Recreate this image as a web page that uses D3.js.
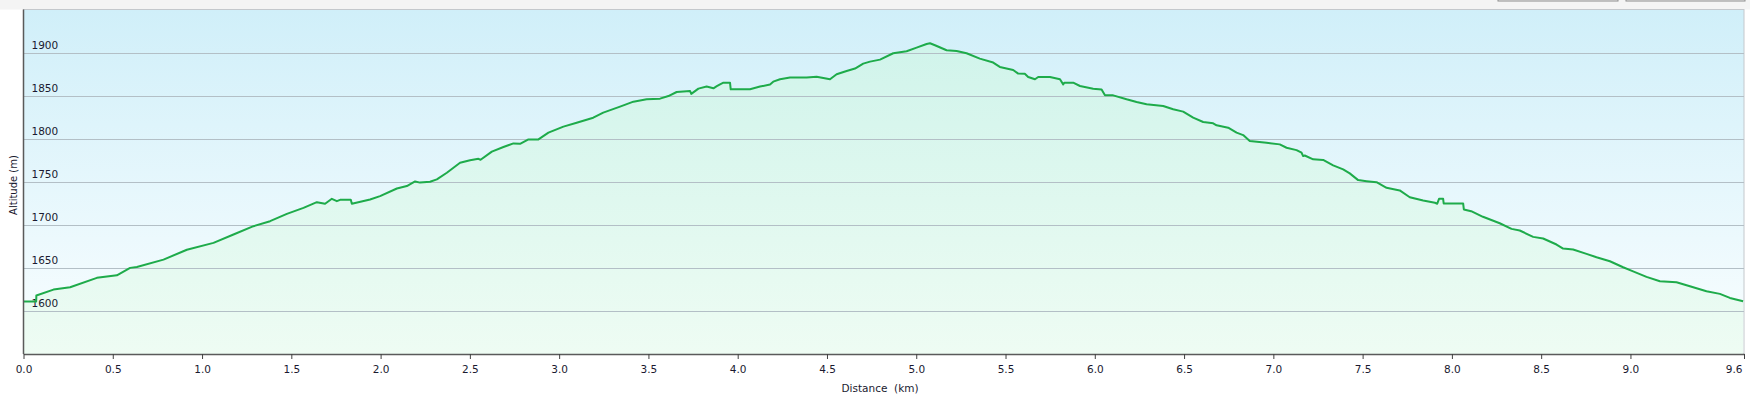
<!DOCTYPE html>
<html>
<head>
<meta charset="utf-8">
<script src="https://cdn.jsdelivr.net/npm/d3@7"></script>
<style>
  body { margin: 0; background: #ffffff; }
  svg { display: block; }
  text { font-family: 'DejaVu Sans', Verdana, sans-serif; fill: #1a1a30; }
</style>
</head>
<body>
<div id="chart"></div>
<script>
// profile
var distances = [0.000, 0.071, 0.072, 0.168, 0.261, 0.411, 0.523, 0.597, 0.635, 0.784, 0.915, 1.064, 1.176, 1.288, 1.381, 1.475, 1.568, 1.643, 1.689, 1.727,
  1.755, 1.773, 1.833, 1.839, 1.941, 1.997, 2.091, 2.147, 2.193, 2.221, 2.277, 2.315, 2.371, 2.445, 2.501, 2.548, 2.560, 2.623, 2.688, 2.744,
  2.781, 2.828, 2.884, 2.940, 3.024, 3.098, 3.191, 3.247, 3.341, 3.416, 3.490, 3.565, 3.612, 3.658, 3.733, 3.740, 3.780, 3.826, 3.864, 3.883,
  3.901, 3.920, 3.957, 3.961, 4.069, 4.125, 4.181, 4.199, 4.237, 4.293, 4.386, 4.442, 4.517, 4.554, 4.610, 4.657, 4.703, 4.741, 4.797, 4.871,
  4.946, 5.002, 5.058, 5.077, 5.105, 5.170, 5.226, 5.282, 5.356, 5.431, 5.468, 5.543, 5.571, 5.608, 5.627, 5.665, 5.683, 5.749, 5.805, 5.823,
  5.830, 5.879, 5.917, 5.991, 6.038, 6.057, 6.103, 6.178, 6.234, 6.290, 6.383, 6.439, 6.495, 6.551, 6.607, 6.663, 6.682, 6.747, 6.794, 6.831,
  6.868, 6.962, 7.036, 7.074, 7.130, 7.158, 7.167, 7.176, 7.223, 7.279, 7.335, 7.391, 7.428, 7.475, 7.522, 7.578, 7.634, 7.708, 7.764, 7.839,
  7.905, 7.918, 7.928, 7.951, 7.954, 8.063, 8.067, 8.108, 8.174, 8.268, 8.334, 8.380, 8.455, 8.511, 8.586, 8.623, 8.679, 8.754, 8.810, 8.885,
  8.959, 9.015, 9.090, 9.165, 9.258, 9.333, 9.426, 9.501, 9.557, 9.631]
var altitudes = [1611, 1611, 1618, 1624.8, 1627.5, 1638.4, 1641.4, 1650, 1651, 1659.6, 1671, 1679, 1688.7, 1698.4, 1704.2, 1712.7, 1719.7, 1726.3, 1724.4, 1730.2,
  1727.5, 1729, 1729, 1724.4, 1729.4, 1733.3, 1742.2, 1745, 1750.4, 1749, 1750, 1752.7, 1760.5, 1772, 1775, 1776.6, 1775.5, 1785, 1790.3, 1794.5,
  1794, 1799.2, 1799.2, 1807, 1814, 1818.6, 1824.4, 1830.2, 1837.2, 1843, 1845.7, 1846.5, 1849.5, 1854.2, 1855.4, 1852, 1858.1, 1860.5, 1858.5, 1861,
  1863.1, 1865, 1865, 1857.3, 1857.3, 1860.5, 1863, 1866.2, 1869, 1871, 1871, 1872, 1869, 1874.8, 1878.6, 1881.4, 1887.2, 1889.5, 1891.8, 1899.2,
  1901.5, 1905.8, 1910, 1910.8, 1908.5, 1902.7, 1901.9, 1899.2, 1893, 1888.4, 1883.3, 1879.8, 1875.6, 1875.4, 1871.6, 1869, 1871.6, 1871.6, 1869, 1863.1,
  1865, 1865, 1861.2, 1858.1, 1857, 1850.3, 1850.3, 1845.7, 1842.6, 1839.9, 1838, 1834.1, 1831.4, 1824.4, 1819.4, 1817.8, 1815.5, 1812.8, 1807, 1804.2,
  1797.2, 1795.3, 1793.4, 1789.5, 1786.7, 1783.7, 1779.8, 1780.5, 1776, 1775.3, 1769, 1764.3, 1759.7, 1751.9, 1750.7, 1749.5, 1743, 1739.9, 1732, 1728.3,
  1725.6, 1724.5, 1730.2, 1730.2, 1724.8, 1724.8, 1717.8, 1715.8, 1709.3, 1701.8, 1695.3, 1693.4, 1686, 1684.1, 1677.1, 1672.4, 1671.3, 1666.3, 1662.4, 1657.7,
  1650.7, 1646, 1639.5, 1634.4, 1633.3, 1628.6, 1622.8, 1619.8, 1615.1, 1611.2]
var altTicks  = [1600, 1650, 1700, 1750, 1800, 1850, 1900]
var distTicks = [0.0, 0.5, 1.0, 1.5, 2.0, 2.5, 3.0, 3.5, 4.0, 4.5, 5.0, 5.5, 6.0, 6.5, 7.0, 7.5, 8.0, 8.5, 9.0, 9.636]
var distMax   = 9.636
var altDomain = [1550, 1950]

var width = 1750, height = 397
var plot = { left: 23.5, right: 1744, top: 9.5, bottom: 354 }

var data = distances.map(function(d, i) { return { dist: d, alt: altitudes[i] } })

var svg = d3.select('#chart').append('svg').attr('width', width).attr('height', height)

// gradients
var defs = svg.append('defs')
var bgGrad = defs.append('linearGradient').attr('id', 'bgGrad').attr('x1', 0).attr('y1', 0).attr('x2', 0).attr('y2', 1)
bgGrad.append('stop').attr('offset', '0%').attr('stop-color', '#d0eff9')
bgGrad.append('stop').attr('offset', '100%').attr('stop-color', '#fafeff')
var areaGrad = defs.append('linearGradient').attr('id', 'areaGrad').attr('gradientUnits', 'userSpaceOnUse')
  .attr('x1', 0).attr('y1', plot.top).attr('x2', 0).attr('y2', plot.bottom)
areaGrad.append('stop').attr('offset', '0%').attr('stop-color', '#cdf3ea')
areaGrad.append('stop').attr('offset', '100%').attr('stop-color', '#eefcf3')

// top toolbar strip with buttons
svg.append('rect').attr('x', 0).attr('y', 0).attr('width', width).attr('height', plot.top).attr('fill', '#f4f4f4')
svg.append('rect').attr('x', 1498).attr('y', -12).attr('width', 120).attr('height', 13).attr('fill', '#f0f0f0').attr('stroke', '#8c8c8c')
svg.append('rect').attr('x', 1626).attr('y', -12).attr('width', 119).attr('height', 13).attr('fill', '#f0f0f0').attr('stroke', '#8c8c8c')

var x = d3.scaleLinear().domain([0, distMax]).range([plot.left, plot.right])
var y = d3.scaleLinear().domain(altDomain).range([plot.bottom, plot.top])

// plot background
svg.append('rect').attr('x', plot.left).attr('y', plot.top).attr('width', plot.right - plot.left).attr('height', plot.bottom - plot.top)
  .attr('fill', 'url(#bgGrad)').attr('stroke', '#c4c8cc').attr('stroke-width', 1)

// area
svg.append('path').datum(data)
  .attr('fill', 'url(#areaGrad)')
  .attr('d', d3.area().x(function(d) { return x(d.dist) }).y0(y(altDomain[0])).y1(function(d) { return y(d.alt) }))

// gridlines
svg.append('g').selectAll('line').data(altTicks).enter().append('line')
  .attr('x1', plot.left).attr('x2', plot.right)
  .attr('y1', function(d) { return Math.round(y(d)) + 0.5 }).attr('y2', function(d) { return Math.round(y(d)) + 0.5 })
  .attr('stroke', '#b3bfc6').attr('stroke-width', 1)

// y labels inside plot
svg.append('g').selectAll('text').data(altTicks).enter().append('text')
  .attr('x', 31.5).attr('y', function(d) { return y(d) - 3.5 })
  .style('font-size', '10.5px')
  .text(function(d) { return d })

// line
svg.append('path').datum(data)
  .attr('fill', 'none')
  .attr('stroke', '#1eab4a')
  .attr('stroke-width', 2)
  .attr('stroke-linejoin', 'round')
  .attr('d', d3.line().x(function(d) { return x(d.dist) }).y(function(d) { return y(d.alt) }))

//x-axis
var xAxis = svg.append('g').attr('transform', 'translate(0,' + plot.bottom + ')')
  .call(d3.axisBottom(x).tickValues(distTicks).tickSize(5).tickSizeOuter(0).tickFormat(d3.format('.1f')))
xAxis.select('.domain').attr('stroke', '#5a5a5a').attr('stroke-width', 1.5)
xAxis.selectAll('.tick line').attr('stroke', '#404040')
xAxis.selectAll('.tick text').attr('fill', '#1a1a30').attr('dy', 0).attr('y', 19)
  .style('font-size', '10.5px').style('font-family', "'DejaVu Sans', Verdana, sans-serif")
// last tick label sits flush against the right edge
xAxis.selectAll('.tick text').filter(function(d) { return d == distMax }).attr('text-anchor', 'end').attr('x', -2)

//y-axis line
svg.append('line').attr('x1', plot.left).attr('x2', plot.left).attr('y1', plot.top).attr('y2', plot.bottom)
  .attr('stroke', '#5a5a5a').attr('stroke-width', 1.5)

// axis titles
svg.append('text').attr('transform', 'translate(17,185) rotate(-90)')
  .style('text-anchor', 'middle').style('font-size', '10px')
  .text('Altitude (m)')
svg.append('text').attr('x', 880).attr('y', 392)
  .style('text-anchor', 'middle').style('font-size', '10.5px')
  .text('Distance\u00a0 (km)')
</script>
</body>
</html>
